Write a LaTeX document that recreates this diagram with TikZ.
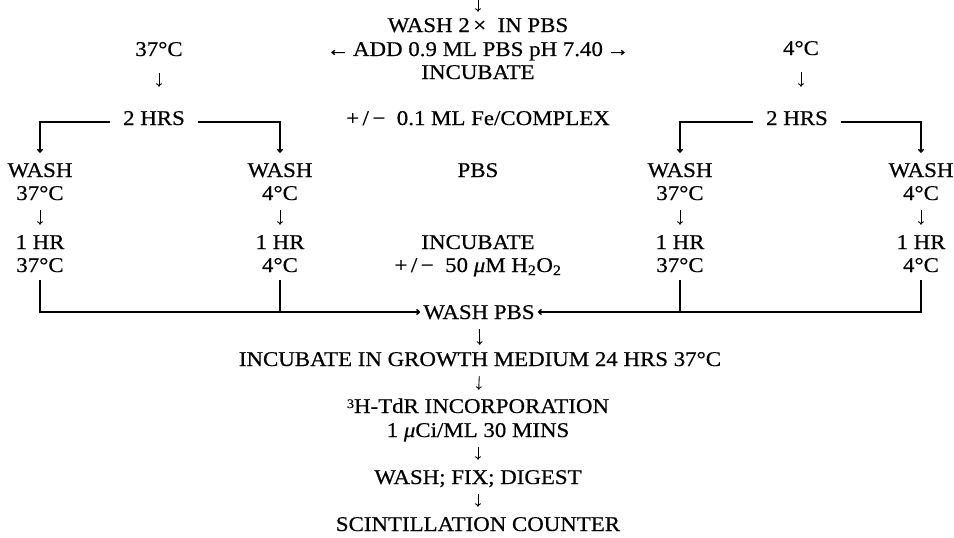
\documentclass[tikz,border=0pt]{standalone}
\usepackage{fontspec}
\setmainfont[FakeStretch=1.09,FakeBold=0.5]{Liberation Serif}
\usetikzlibrary{arrows.meta}
\begin{document}
\begin{tikzpicture}[x=1pt,y=-1pt,
 txt/.style={inner sep=0pt, text height=14pt, text depth=0pt, font=\fontsize{21}{25}\selectfont},
 darr/.style={line width=0.9pt, -{To[length=3.5pt,width=6pt]}, shorten <=10pt, shorten >=10pt},
 brk/.style={line width=1.5pt},
 brka/.style={line width=1.5pt, -{To[length=4pt,width=6pt]}},
]
\useasboundingbox (0,0) rectangle (954,538);
\coordinate (top) at (478,0);
\node[txt] (w2) at (478,25) {WASH 2\,×\ \ IN PBS};
\node[txt] (add) at (478,49) {←\,ADD 0.9 ML PBS pH 7.40\,→};
\node[txt] (inc) at (478,72) {INCUBATE};
\node[txt] (t37) at (159,49) {37°C};
\node[txt] (t4) at (801,48) {4°C};
\node[txt, inner xsep=13pt] (l2) at (154,118) {2 HRS};
\node[txt, inner xsep=13pt] (r2) at (797,118) {2 HRS};
\node[txt] (fe) at (478,118) {+\,/\,−\ \ 0.1 ML Fe/COMPLEX};
% column a
\node[txt] (aw) at (40,170) {WASH};
\node[txt] (at) at (40,193) {37°C};
\node[txt] (ah) at (40,242) {1 HR};
\node[txt] (ab) at (40,265) {37°C};
% column b
\node[txt] (bw) at (280,170) {WASH};
\node[txt] (bt) at (280,193) {4°C};
\node[txt] (bh) at (280,242) {1 HR};
\node[txt] (bb) at (280,265) {4°C};
% column c
\node[txt] (cw) at (680,170) {WASH};
\node[txt] (ct) at (680,193) {37°C};
\node[txt] (ch) at (680,242) {1 HR};
\node[txt] (cb) at (680,265) {37°C};
% column d
\node[txt] (dw) at (921,170) {WASH};
\node[txt] (dt) at (921,193) {4°C};
\node[txt] (dh) at (921,242) {1 HR};
\node[txt] (db) at (921,265) {4°C};
% middle
\node[txt] (pbs) at (478,170) {PBS};
\node[txt] (inc2) at (478,242) {INCUBATE};
\node[txt] (h2o2) at (478,265) {+\,/\,−\ \ 50 {\itshape μ}M H\textsubscript{2}O\textsubscript{2}};
\node[txt, inner xsep=3pt] (wp) at (479,312) {WASH PBS};
\node[txt] (grow) at (480,359) {INCUBATE IN GROWTH MEDIUM 24 HRS 37°C};
\node[txt] (tdr) at (478,406) {\raisebox{5pt}{\fontsize{13}{13}\selectfont 3}H-TdR INCORPORATION};
\node[txt] (uci) at (478,430) {1 {\itshape μ}Ci/ML 30 MINS};
\node[txt] (fix) at (478,477) {WASH; FIX; DIGEST};
\node[txt] (scin) at (478,524) {SCINTILLATION COUNTER};
% arrows
\draw[darr, shorten <=0pt, shorten >=6pt] (top) -- (w2);
\draw[darr, shorten <=17pt, shorten >=24pt] (t37.south) -- (t37.south |- l2.north);
\draw[darr, shorten <=17pt, shorten >=24pt] (t4.south) -- (t4.south |- r2.north);
\draw[brka, shorten >=10pt] ([yshift=-4pt]l2.west) -| (aw.north);
\draw[brka, shorten >=10pt] ([yshift=-4pt]l2.east) -| (bw.north);
\draw[brka, shorten >=10pt] ([yshift=-4pt]r2.west) -| (cw.north);
\draw[brka, shorten >=10pt] ([yshift=-4pt]r2.east) -| (dw.north);
\draw[darr, shorten <=10pt, shorten >=10pt] (at) -- (ah);
\draw[darr, shorten <=10pt, shorten >=10pt] (bt) -- (bh);
\draw[darr, shorten <=10pt, shorten >=10pt] (ct) -- (ch);
\draw[darr, shorten <=10pt, shorten >=10pt] (dt) -- (dh);
\draw[brka] ([yshift=-8pt]ab.south) |- (wp.west);
\draw[brk] ([yshift=-8pt]bb.south) -- (bb.south |- wp.west);
\draw[brka] ([yshift=-8pt]db.south) |- (wp.east);
\draw[brk] ([yshift=-8pt]cb.south) -- (cb.south |- wp.east);
\draw[darr, shorten <=10pt, shorten >=7pt] (wp) -- (grow);
\draw[darr, shorten <=10pt, shorten >=9pt] (grow) -- (tdr);
\draw[darr] (uci) -- (fix);
\draw[darr] (fix) -- (scin);
\end{tikzpicture}
\end{document}
